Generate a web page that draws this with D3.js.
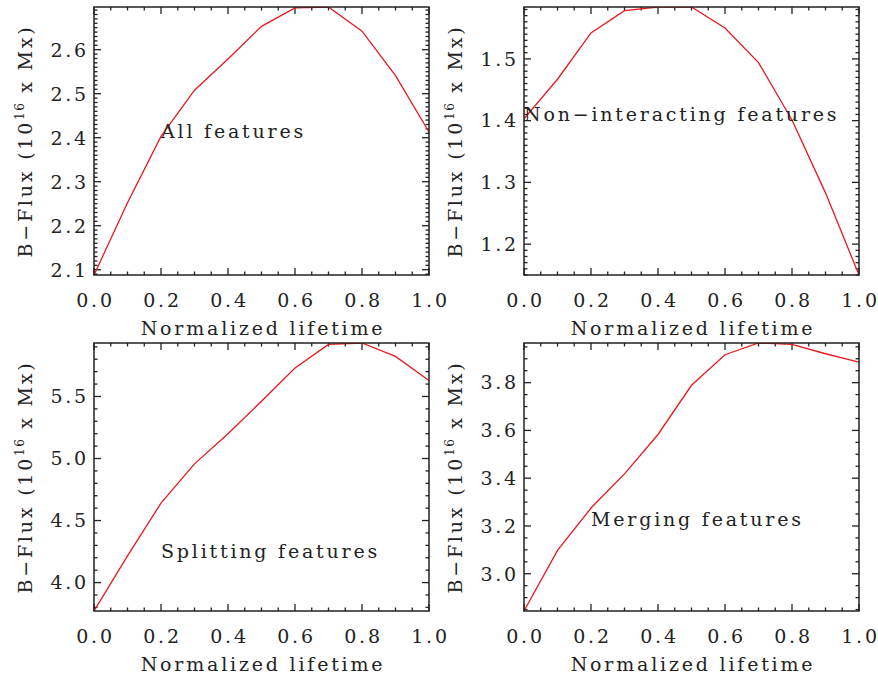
<!DOCTYPE html>
<html>
<head>
<meta charset="utf-8">
<script src="https://cdn.jsdelivr.net/npm/d3@7"></script>
<style>
  body { margin: 0; background: #fff; }
  svg text { font-family: "DejaVu Serif", "Liberation Serif", serif; fill: #222; font-size: 19px; letter-spacing: 2.8px; }
  .frame { fill: none; stroke: #222; stroke-width: 1.5; }
  .tick { stroke: #222; stroke-width: 1.3; }
  .line { fill: none; stroke: #e8191e; stroke-width: 1.3; }
</style>
</head>
<body>
<svg id="chart" width="878" height="677"></svg>
<script>
// normalized lifetime, shared by all panels
var lifetime = [0.0, 0.1, 0.2, 0.3, 0.4, 0.5, 0.6, 0.7, 0.8, 0.9, 1.0];

// mean B-flux (10^16 Mx)
var allFeatures    = [2.088, 2.252, 2.403, 2.508, 2.579, 2.653, 2.695, 2.697, 2.642, 2.541, 2.413];
var nonInteracting = [1.403, 1.467, 1.542, 1.578, 1.584, 1.584, 1.550, 1.494, 1.401, 1.283, 1.150];
var splitting      = [3.771, 4.215, 4.641, 4.957, 5.199, 5.462, 5.729, 5.920, 5.931, 5.823, 5.629];
var merging        = [2.844, 3.098, 3.275, 3.418, 3.583, 3.789, 3.917, 3.966, 3.960, 3.921, 3.886];

var xTicks = [0.0, 0.2, 0.4, 0.6, 0.8, 1.0];
var xMinorStep = 0.05;

var panelNames = ["All features", "Non\u2212interacting features", "Splitting features", "Merging features"];
var panelSeries = [allFeatures, nonInteracting, splitting, merging];
var yTicks = [
  [2.1, 2.2, 2.3, 2.4, 2.5, 2.6],
  [1.2, 1.3, 1.4, 1.5],
  [4.0, 4.5, 5.0, 5.5],
  [3.0, 3.2, 3.4, 3.6, 3.8]
];
var yMinorStep = [0.01, 0.01, 0.1, 0.05];
// label anchor points in data coordinates [lifetime, flux]
var labelPos = [[0.2, 2.40], [0.0, 1.40], [0.2, 4.20], [0.2, 3.20]];

var svg = d3.select("#chart");
var plotW = 335, plotH = 268;
var origins = [[94, 7], [524, 7], [94, 343], [524, 343]];
var majorLen = 7, minorLen = 3.5;

function range(a, b, step) {
  var out = [];
  var n = Math.round((b - a) / step);
  for (var i = 0; i <= n; i++) out.push(+(a + i * step).toFixed(6));
  return out;
}

panelSeries.forEach(function(series, p) {
  var g = svg.append("g").attr("transform", "translate(" + origins[p][0] + "," + origins[p][1] + ")");

  var x = d3.scaleLinear().domain([0, 1]).range([0, plotW]);
  var y = d3.scaleLinear().domain(d3.extent(series)).range([plotH, 0]);

  // clip the data to the box like IDL does
  g.append("clipPath").attr("id", "clip" + p)
    .append("rect").attr("width", plotW).attr("height", plotH);

  // x minor/major ticks, bottom and top
  var xMinor = range(0, 1, xMinorStep);
  var isMajorX = function(v) { return xTicks.some(function(t) { return Math.abs(t - v) < 1e-6; }); };
  g.selectAll(".xtb").data(xMinor).enter().append("line")
    .attr("class", "tick")
    .attr("x1", function(d) { return x(d); }).attr("x2", function(d) { return x(d); })
    .attr("y1", plotH).attr("y2", function(d) { return plotH - (isMajorX(d) ? majorLen : minorLen); });
  g.selectAll(".xtt").data(xMinor).enter().append("line")
    .attr("class", "tick")
    .attr("x1", function(d) { return x(d); }).attr("x2", function(d) { return x(d); })
    .attr("y1", 0).attr("y2", function(d) { return isMajorX(d) ? majorLen : minorLen; });

  // y minor/major ticks, left and right
  var dom = y.domain();
  var step = yMinorStep[p];
  var yMinor = range(Math.ceil(dom[0] / step - 1e-6) * step, Math.floor(dom[1] / step + 1e-6) * step, step);
  var isMajorY = function(v) { return yTicks[p].some(function(t) { return Math.abs(t - v) < 1e-6; }); };
  g.selectAll(".ytl").data(yMinor).enter().append("line")
    .attr("class", "tick")
    .attr("y1", function(d) { return y(d); }).attr("y2", function(d) { return y(d); })
    .attr("x1", 0).attr("x2", function(d) { return isMajorY(d) ? majorLen : minorLen; });
  g.selectAll(".ytr").data(yMinor).enter().append("line")
    .attr("class", "tick")
    .attr("y1", function(d) { return y(d); }).attr("y2", function(d) { return y(d); })
    .attr("x1", plotW).attr("x2", function(d) { return plotW - (isMajorY(d) ? majorLen : minorLen); });

  // tick labels
  g.selectAll(".xl").data(xTicks).enter().append("text")
    .attr("x", function(d) { return x(d) + 1.5; })
    .attr("y", plotH + 32)
    .attr("text-anchor", "middle")
    .text(d3.format(".1f"));
  g.selectAll(".yl").data(yTicks[p]).enter().append("text")
    .attr("x", -5)
    .attr("y", function(d) { return y(d); })
    .attr("dy", "0.36em")
    .attr("text-anchor", "end")
    .text(d3.format(".1f"));

  // the curve
  var line = d3.line()
    .x(function(d, i) { return x(lifetime[i]); })
    .y(function(d) { return y(d); });
  g.append("path").datum(series)
    .attr("class", "line")
    .attr("clip-path", "url(#clip" + p + ")")
    .attr("d", line);

  g.append("rect").attr("class", "frame").attr("width", plotW).attr("height", plotH);

  // axis titles
  g.append("text")
    .attr("x", plotW / 2 + 1.5)
    .attr("y", plotH + 60)
    .attr("text-anchor", "middle")
    .text("Normalized lifetime");

  var yt = g.append("text")
    .attr("transform", "translate(" + (-62) + "," + (plotH / 2) + ") rotate(-90)")
    .attr("text-anchor", "middle");
  yt.append("tspan").text("B\u2212Flux (10");
  yt.append("tspan").attr("dy", -8).style("font-size", "12px").style("letter-spacing", "1.5px").text("16");
  yt.append("tspan").attr("dy", 8).text(" x Mx)");

  // panel label
  g.append("text")
    .attr("x", x(labelPos[p][0]))
    .attr("y", y(labelPos[p][1]))
    .text(panelNames[p]);
});
</script>
</body>
</html>
